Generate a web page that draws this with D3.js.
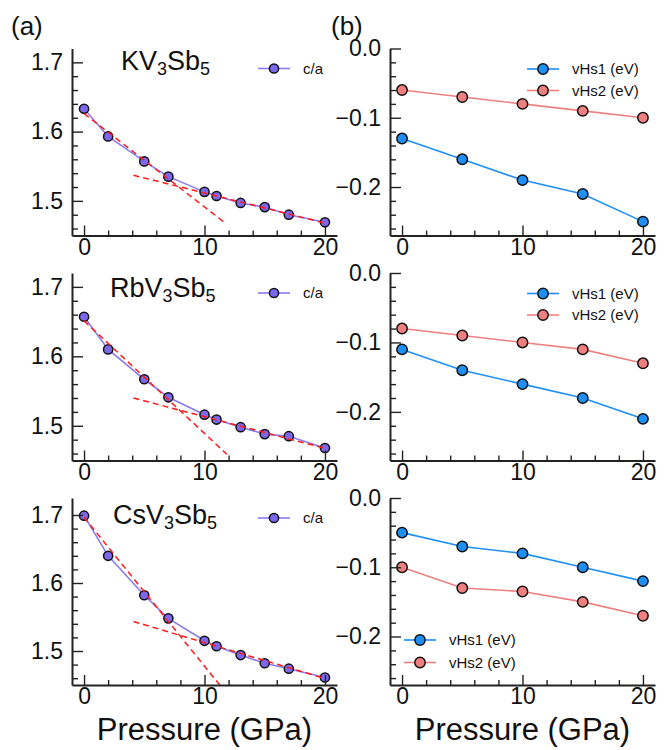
<!DOCTYPE html>
<html>
<head>
<meta charset="utf-8">
<script src="https://cdn.jsdelivr.net/npm/d3@7"></script>
<style>
  body { margin: 0; background: #fff; }
  svg { display: block; font-family: "Liberation Sans", Arial, sans-serif; }
</style>
</head>
<body>
<svg id="chart" width="670" height="750"></svg>
<script>
// ---------- data ----------
const pressureCA = [0, 2, 5, 7, 10, 11, 13, 15, 17, 20];
const caK  = [1.633, 1.593, 1.557, 1.535, 1.513, 1.507, 1.497, 1.491, 1.480, 1.469];
const caRb = [1.657, 1.610, 1.567, 1.541, 1.516, 1.509, 1.498, 1.488, 1.485, 1.468];
const caCs = [1.699, 1.640, 1.582, 1.548, 1.515, 1.507, 1.494, 1.482, 1.474, 1.461];

// dashed linear fits: [x1, y1, x2, y2]
const fitK  = [[0, 1.626, 11.8, 1.467], [4.1, 1.537, 20, 1.468]];
const fitRb = [[0, 1.651, 11.85, 1.459], [4.1, 1.540, 20, 1.4675]];
const fitCs = [[0, 1.6966, 12, 1.434], [4.1, 1.5434, 20, 1.4596]];

const pressureVHS = [0, 5, 10, 15, 20];
const vhs1K  = [-0.13, -0.16, -0.19, -0.21, -0.25];
const vhs2K  = [-0.06, -0.07, -0.08, -0.09, -0.10];
const vhs1Rb = [-0.11, -0.14, -0.16, -0.18, -0.21];
const vhs2Rb = [-0.08, -0.09, -0.10, -0.11, -0.13];
const vhs1Cs = [-0.05, -0.07, -0.08, -0.10, -0.12];
const vhs2Cs = [-0.10, -0.13, -0.135, -0.15, -0.17];

const compounds = [["K", "V", "3", "Sb", "5"], ["Rb", "V", "3", "Sb", "5"], ["Cs", "V", "3", "Sb", "5"]];
const xTicksMajor = [0, 10, 20];
const xTicksMinor = [2, 4, 6, 8, 12, 14, 16, 18];
const caTicksMajor = [1.5, 1.6, 1.7];
const caTicksMinor = [1.46, 1.48, 1.52, 1.54, 1.56, 1.58, 1.62, 1.64, 1.66, 1.68];
const eTicksMajor = [0, -0.1, -0.2];
const eTicksMinor = [-0.26, -0.24, -0.22, -0.18, -0.16, -0.14, -0.12, -0.08, -0.06, -0.04, -0.02];
const legendCA = ["c/a"];
const legendVHS = ["vHs1 (eV)", "vHs2 (eV)"];
const xLabel = "Pressure (GPa)";
const panelLabels = ["(a)", "(b)"];

// ---------- layout ----------
const svg = d3.select("#chart");
const AXIS = "#222";
const PURPLE = "#7b68ee", PURPLE_LINE = "#8a7cf0";
const BLUE = "#1e8ff5", PINK = "#f08080", RED = "#ff1a1a";

const rows = [
  { top: 48.5, bottom: 235.5, caDom: [1.45, 1.72], ca: caK, fit: fitK, v1: vhs1K, v2: vhs2K, title: { x: 121, y: 70 }, legTop: true },
  { top: 273, bottom: 460.5, caDom: [1.45, 1.72], ca: caRb, fit: fitRb, v1: vhs1Rb, v2: vhs2Rb, title: { x: 110, y: 296.5 }, legTop: true },
  { top: 498, bottom: 685, caDom: [1.45, 1.725], ca: caCs, fit: fitCs, v1: vhs1Cs, v2: vhs2Cs, title: { x: 113, y: 523.5 }, legTop: false }
];
const leftX = [72, 337], rightX = [390, 655];

function drawAxes(g, x, y, yMajor, yMinor, fmt) {
  const xb = g.append("g").attr("transform", `translate(0,${y.range()[0]})`);
  xb.call(d3.axisBottom(x).tickValues(xTicksMinor).tickSize(-5).tickFormat(""))
    .call(s => s.select(".domain").remove());
  xb.append("g").call(d3.axisBottom(x).tickValues(xTicksMajor).tickSize(-10).tickSizeOuter(0).tickPadding(3).tickFormat(d3.format("d")));
  const yl = g.append("g").attr("transform", `translate(${x.range()[0]},0)`);
  yl.call(d3.axisLeft(y).tickValues(yMinor).tickSize(-6).tickFormat(""))
    .call(s => s.select(".domain").remove());
  yl.append("g").call(d3.axisLeft(y).tickValues(yMajor).tickSize(-11).tickSizeOuter(0).tickPadding(9).tickFormat(fmt));
  g.selectAll(".domain").attr("stroke", AXIS).attr("stroke-width", 2);
  g.selectAll(".tick line").attr("stroke", AXIS).attr("stroke-width", 1.4);
  g.selectAll(".tick text").attr("fill", "#111").style("font-size", "23px").style("font-family", "'Liberation Sans', Arial, sans-serif");
}

function series(g, x, y, xs, ys, lineColor, fill, r) {
  const pts = xs.map((p, i) => [p, ys[i]]);
  g.append("path").datum(pts)
    .attr("fill", "none").attr("stroke", lineColor).attr("stroke-width", 1.6)
    .attr("d", d3.line().x(d => x(d[0])).y(d => y(d[1])));
  g.selectAll(null).data(pts).enter().append("circle")
    .attr("cx", d => x(d[0])).attr("cy", d => y(d[1])).attr("r", r)
    .attr("fill", fill).attr("stroke", "#111").attr("stroke-width", 1.5);
}

function legendItem(g, x0, yy, label, lineColor, fill, r) {
  g.append("line").attr("x1", x0).attr("x2", x0 + 32).attr("y1", yy).attr("y2", yy)
    .attr("stroke", lineColor).attr("stroke-width", 1.6);
  g.append("circle").attr("cx", x0 + 16).attr("cy", yy).attr("r", r)
    .attr("fill", fill).attr("stroke", "#111").attr("stroke-width", 1.5);
  g.append("text").attr("x", x0 + 45).attr("y", yy + 5.2).text(label)
    .style("font-size", "15px").attr("fill", "#111");
}

rows.forEach((row, i) => {
  // ---- left: c/a ----
  const xl = d3.scaleLinear().domain([-1, 21]).range(leftX);
  const yl = d3.scaleLinear().domain(row.caDom).range([row.bottom, row.top]);
  const gl = svg.append("g");
  const clipId = "clip" + i;
  svg.append("defs").append("clipPath").attr("id", clipId).append("rect")
    .attr("x", leftX[0]).attr("y", row.top).attr("width", leftX[1] - leftX[0]).attr("height", row.bottom - row.top);

  series(gl, xl, yl, pressureCA, row.ca, PURPLE_LINE, PURPLE, 4.6);
  gl.append("g").attr("clip-path", `url(#${clipId})`).selectAll("line").data(row.fit).enter().append("line")
    .attr("x1", d => xl(d[0])).attr("y1", d => yl(d[1])).attr("x2", d => xl(d[2])).attr("y2", d => yl(d[3]))
    .attr("stroke", RED).attr("stroke-width", 1.5).attr("stroke-dasharray", "6,4");
  drawAxes(gl, xl, yl, caTicksMajor, caTicksMinor, d3.format(".1f"));

  // title with subscripts
  const c = compounds[i];
  const t = gl.append("text").attr("x", row.title.x).attr("y", row.title.y).attr("fill", "#111").style("font-size", "27px");
  t.append("tspan").text(c[0] + c[1]);
  t.append("tspan").text(c[2]).style("font-size", "18px").attr("dy", 5);
  t.append("tspan").text(c[3]).attr("dy", -5);
  t.append("tspan").text(c[4]).style("font-size", "18px").attr("dy", 5);

  legendItem(gl, 258, row.top + 20, legendCA[0], PURPLE_LINE, PURPLE, 4.6);

  // ---- right: vHs ----
  const xr = d3.scaleLinear().domain([-1, 21]).range(rightX);
  const yr = d3.scaleLinear().domain([-0.27, 0]).range([row.bottom, row.top]);
  const gr = svg.append("g");
  series(gr, xr, yr, pressureVHS, row.v2, PINK, PINK, 5.2);
  series(gr, xr, yr, pressureVHS, row.v1, BLUE, BLUE, 5.2);
  drawAxes(gr, xr, yr, eTicksMajor, eTicksMinor, d3.format(".1f"));
  if (row.legTop) {
    legendItem(gr, 527, row.top + 20.5, legendVHS[0], BLUE, BLUE, 5.2);
    legendItem(gr, 527, row.top + 42, legendVHS[1], PINK, PINK, 5.2);
  } else {
    legendItem(gr, 404, row.bottom - 45, legendVHS[0], BLUE, BLUE, 5.2);
    legendItem(gr, 404, row.bottom - 22.5, legendVHS[1], PINK, PINK, 5.2);
  }
});

// panel labels
svg.append("text").attr("x", 11).attr("y", 35).text(panelLabels[0]).style("font-size", "26px").attr("fill", "#111");
svg.append("text").attr("x", 331).attr("y", 35).text(panelLabels[1]).style("font-size", "26px").attr("fill", "#111");

// x labels
[leftX, rightX].forEach(r => {
  svg.append("text").attr("x", (r[0] + r[1]) / 2).attr("y", 740).attr("text-anchor", "middle")
    .text(xLabel).style("font-size", "31px").attr("fill", "#111");
});
</script>
</body>
</html>
